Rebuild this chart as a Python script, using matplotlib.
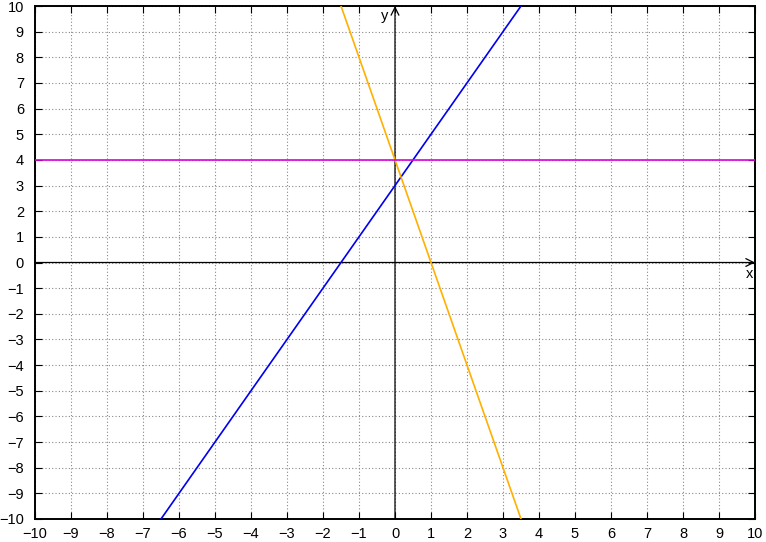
import matplotlib
matplotlib.use("Agg")
import matplotlib.pyplot as plt
import numpy as np

plt.rcParams['font.family'] = ['Liberation Sans', 'DejaVu Sans']

x_range = [-10, 10]
y_range = [-10, 10]
ticks = list(range(-10, 11))
lines_slope = [2, -4, 0]
lines_intercept = [3, 4, 4]
lines_color = ['#0000ee', '#ffb000', '#dd00dd']

fig = plt.figure(figsize=(7.66, 5.42), dpi=100)
ax = fig.add_axes([35/766, 23/542, 720/766, 513/542])
ax.set_xlim(*x_range)
ax.set_ylim(*y_range)

xs = np.linspace(-10, 10, 401)
for m, b, c in zip(lines_slope, lines_intercept, lines_color):
    ax.plot(xs, m*xs + b, color=c, lw=1.2, zorder=3, clip_on=True)

ax.set_xticks(ticks)
ax.set_yticks(ticks)
lab = [str(t).replace('-', '\u2212') for t in ticks]
ax.set_xticklabels(lab)
ax.set_yticklabels(lab)
ax.tick_params(direction='in', length=5, width=0.8, top=True, right=True,
               labelsize=10.5)
ax.tick_params(axis='y', pad=8)
ax.tick_params(axis='x', pad=6)
ax.grid(True, color='#888888', linestyle=(0, (1, 2)), lw=0.8)
for s in ax.spines.values():
    s.set_linewidth(1.4)

# axes arrows
ax.annotate('', xy=(10, 0), xytext=(-10, 0),
            arrowprops=dict(arrowstyle='->', color='black', lw=0.9,
                            shrinkA=0, shrinkB=0, mutation_scale=14), zorder=2)
ax.annotate('', xy=(0, 10), xytext=(0, -10),
            arrowprops=dict(arrowstyle='->', color='black', lw=0.9,
                            shrinkA=0, shrinkB=0, mutation_scale=14), zorder=2)
ax.text(9.85, -0.45, 'x', ha='center', va='center', fontsize=10.5)
ax.text(-0.3, 9.6, 'y', ha='center', va='center', fontsize=10.5)

fig.savefig('out.png', dpi=100)
